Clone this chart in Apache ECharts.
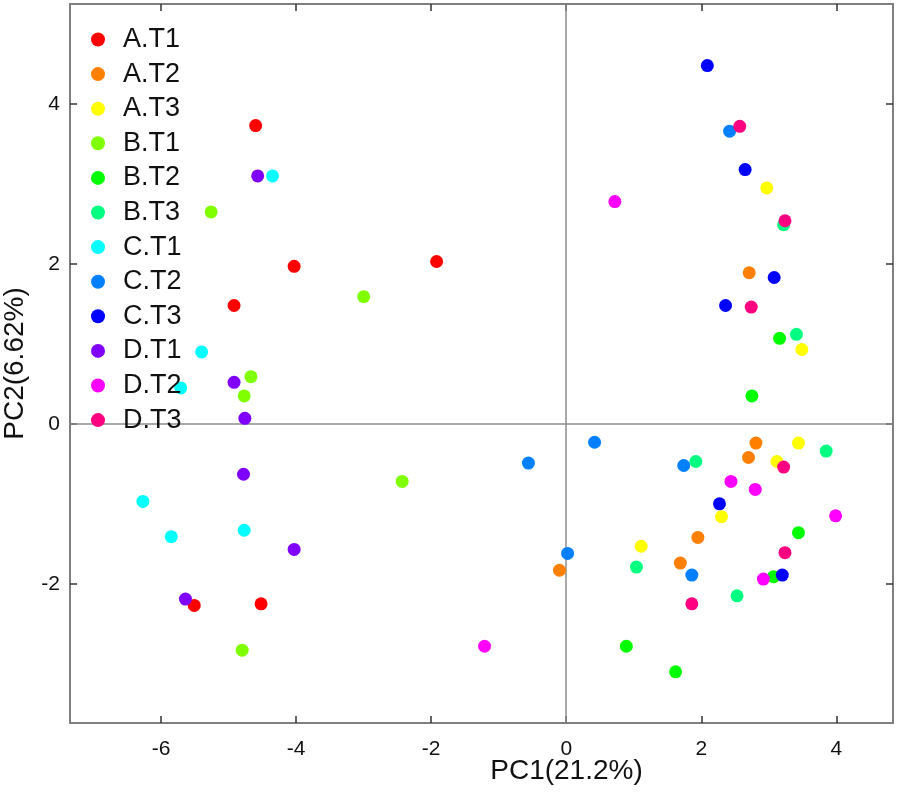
<!DOCTYPE html>
<html>
<head>
<meta charset="utf-8">
<script src="https://cdn.jsdelivr.net/npm/echarts@6/dist/echarts.min.js"></script>
<style>html,body{margin:0;padding:0;background:#fff;}#c{width:898px;height:803px;}</style>
</head>
<body>
<div id="c"></div>
<script>
var groupNames = ['A.T1','A.T2','A.T3','B.T1','B.T2','B.T3','C.T1','C.T2','C.T3','D.T1','D.T2','D.T3'];
var groupColors = ['#ff0000','#ff8000','#ffff00','#80ff00','#00ff00','#00ff80','#00ffff','#0080ff','#0000ff','#8000ff','#ff00ff','#ff0080'];

var A_T1 = [[-4.60,3.73],[-4.03,1.97],[-1.92,2.03],[-4.92,1.48],[-5.51,-2.27],[-4.52,-2.25]];
var A_T2 = [[2.71,1.89],[2.81,-0.24],[2.70,-0.42],[1.95,-1.42],[1.69,-1.74],[-0.10,-1.83]];
var A_T3 = [[2.97,2.95],[3.49,0.93],[3.44,-0.24],[3.12,-0.47],[2.30,-1.16],[1.11,-1.53]];
var B_T1 = [[-5.26,2.65],[-3.00,1.59],[-4.67,0.59],[-4.77,0.35],[-2.43,-0.72],[-4.80,-2.83]];
var B_T2 = [[3.16,1.07],[2.75,0.35],[3.44,-1.36],[3.07,-1.91],[0.89,-2.78],[1.62,-3.10]];
var B_T3 = [[3.22,2.49],[3.41,1.12],[3.85,-0.34],[1.92,-0.47],[1.04,-1.79],[2.53,-2.15]];
var C_T1 = [[-4.35,3.10],[-5.40,0.90],[-5.71,0.45],[-6.27,-0.97],[-5.85,-1.41],[-4.77,-1.33]];
var C_T2 = [[2.42,3.66],[-0.56,-0.49],[0.42,-0.23],[0.02,-1.62],[1.74,-0.52],[1.86,-1.89]];
var C_T3 = [[2.09,4.48],[2.65,3.18],[3.08,1.83],[2.36,1.48],[2.27,-1.00],[3.20,-1.89]];
var D_T1 = [[-4.57,3.10],[-4.92,0.52],[-4.76,0.07],[-4.78,-0.63],[-4.03,-1.57],[-5.64,-2.19]];
var D_T2 = [[0.72,2.78],[2.44,-0.72],[2.80,-0.82],[3.99,-1.15],[2.92,-1.94],[-1.21,-2.78]];
var D_T3 = [[2.57,3.72],[3.24,2.54],[2.74,1.46],[3.22,-0.54],[3.24,-1.61],[1.86,-2.25]];

var groupData = [A_T1,A_T2,A_T3,B_T1,B_T2,B_T3,C_T1,C_T2,C_T3,D_T1,D_T2,D_T3];

var xTicks = [-6,-4,-2,0,2,4];
var yTicks = [-2,0,2,4];
var xMin = -7.35, xMax = 4.84;
var yMin = -3.74, yMax = 5.25;

var frameColor = '#7f7f7f';
var fontFam = 'Liberation Sans, Arial, sans-serif';

var series = groupNames.map(function(n,i){
  var s = {
    name: n, type: 'scatter', data: groupData[i],
    symbol: 'circle', symbolSize: 13,
    itemStyle: {color: groupColors[i], opacity: 1},
    emphasis: {disabled: true}, z: 3
  };
  if (i === 0) {
    s.markLine = {
      silent: true, symbol: ['none','none'], label: {show:false},
      lineStyle: {color: '#8c8c8c', width: 1.5, type: 'solid'},
      data: [{xAxis: 0}, {yAxis: 0}], z: 1, animation: false
    };
  }
  return s;
});

function mkX(pos, show){
  return {
    type:'value', position: pos, min:xMin, max:xMax,
    axisLine:{show:true, onZero:false, lineStyle:{color:frameColor, width:2}},
    axisTick:{show:true, inside:true, length:7, customValues:xTicks, lineStyle:{color:'#333', width:1.5}},
    axisLabel:{show:show, customValues:xTicks, color:'#111', fontSize:21, fontFamily:fontFam, margin:16},
    splitLine:{show:false},
    name: show ? 'PC1(21.2%)' : '', nameLocation:'middle', nameGap:34, nameMoveOverlap:false,
    nameTextStyle:{color:'#111', fontSize:28, fontFamily:fontFam, padding:[0,0,0,170]}
  };
}
function mkY(pos, show){
  return {
    type:'value', position: pos, min:yMin, max:yMax,
    axisLine:{show:true, onZero:false, lineStyle:{color:frameColor, width:2}},
    axisTick:{show:true, inside:true, length:7, customValues:yTicks, lineStyle:{color:'#333', width:1.5}},
    axisLabel:{show:show, customValues:yTicks, color:'#111', fontSize:21, fontFamily:fontFam, margin:10},
    splitLine:{show:false},
    name: show ? 'PC2(6.62%)' : '', nameLocation:'middle', nameGap:41, nameRotate:90, nameMoveOverlap:false,
    nameTextStyle:{color:'#111', fontSize:28, fontFamily:fontFam}
  };
}

var chart = echarts.init(document.getElementById('c'), null, {renderer:'canvas'});
chart.setOption({
  animation: false,
  backgroundColor: '#ffffff',
  grid: {left:70, right:5, top:4, bottom:80, containLabel:false, outerBoundsMode:'none'},
  xAxis: [mkX('bottom', true), mkX('top', false)],
  yAxis: [mkY('left', true), mkY('right', false)],
  legend: {
    orient:'vertical', left:86, top:21,
    itemWidth:40, itemHeight:14, itemGap:7.6, icon:'circle',
    textStyle:{color:'#111', fontSize:27, fontFamily:fontFam, lineHeight:27},
    data: groupNames
  },
  series: series
});
</script>
</body>
</html>
